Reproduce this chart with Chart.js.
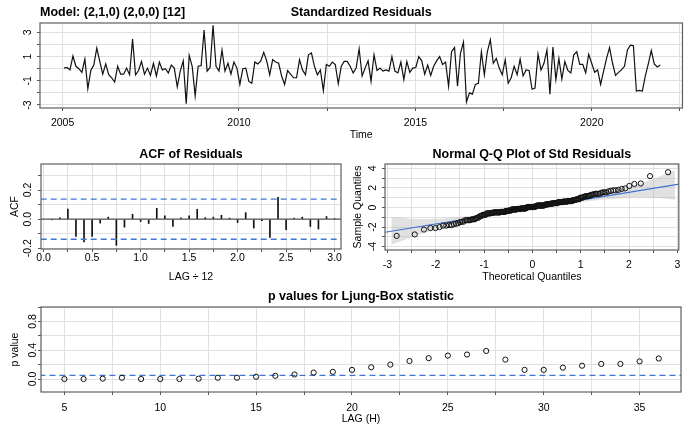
<!DOCTYPE html>
<html>
<head>
<meta charset="utf-8">
<script src="https://cdn.jsdelivr.net/npm/chart.js@4.4.1/dist/chart.umd.min.js"></script>
<style>
  html, body { margin: 0; padding: 0; background: #fff; overflow: hidden; }
  #wrap { position: relative; width: 686px; height: 429px; }
  #wrap canvas { position: absolute; left: 0; top: 0; }
</style>
</head>
<body>
<div id="wrap">
  <canvas id="resChart" width="686" height="429"></canvas>
  <canvas id="acfChart" width="686" height="429"></canvas>
  <canvas id="qqChart" width="686" height="429"></canvas>
  <canvas id="lbChart" width="686" height="429"></canvas>
</div>
<script>
// ---- data ----
// standardized residuals (monthly)
const resFirstTime = 2005.04;
const resLastTime = 2021.94;
const residuals = [
  0.05, 0.1, -0.1, 1.05, 0.2, 0, -0.3, 0.8, -1.65, -0.15, 0.3, 1.7, 0.6, -0.45, 0.4, -0.5, -0.75, -1.1, 0.2, -0.45,
  -0.45, 0.05, -0.5, 2.45, -0.5, -0.15, 0.6, -0.45, 0.05, -0.55, 0.45,
  -0.6, 0.55, -0.1, 0, -0.35, 0.3, 0.05, -1.5, -0.2, 0.65, -2.9, 1.1, 0.2, -2.25, 0.2, 0.25, 3.2, -0.2, 0.1, 3.6,
  0.2, -0.2, 1.55, -0.2, 0.45, -0.45, 0.55, 0.05, -1.3, 0, 0.05, -1.05,
  -1.2, 0.55, 0.4, 0.65, 1.35, 0.65, -0.5, 0.75, 0.55, 0.45, -0.6, -1.3, -0.15, -0.45, -0.75, -0.75, 0.75, -0.1,
  -0.5, 1.15, 1.3, 0.2, -0.5, -0.1, -1.8, 0.35, 0.2, 0.55, 0.35, -1.25, 0.2, 0.6,
  0.6, 0.2, -0.35, 0.05, 1.65, -0.6, 0.05, 0.65, -1.05, 1.15, -0.15, 0.05, -0.2, -0.1, -0.2, 1.0, -0.2, -0.35,
  0.55, -0.9, 0.6, -0.3, 0.05, 0.1, 1.0, 0.65, -0.45, 0.3, -0.55, 0.2, 0.65, 1.0, 0.35,
  0.55, -1.45, 1.4, 1.75, -1.45, 1.3, 2.2, -2.75, -2.0, -2.1, -1.3, -1.2, 1.4, -0.5, 1.4, 2.4, 0.45, 0.85, 0.05,
  -0.5, 0.75, -1.2, -0.75, 0.2, -0.5, 0.8, -0.6, -0.1, -0.15, -1.7, -1.6, 1.2,
  -0.1, 0.45, 1.55, -2.1, 1.8, -0.9, 0.85, -0.85, 0.6, -0.15, -0.35, 1.15, 1.4, 0.35, 0.35, -0.35, 1.2, 0.45, -0.3,
  -0.1, -1.3, -0.2, 0.85, 1.75, 0.45, -0.55, -0.3, -0.1, 0.2, 1.55, 1.95, 1.9, -1.85, -1.8,
  -1.85, -0.6, 0.4, 1.5, 0.4, 0.15, 0.3
];
const resTimeTicks = [2005, 2007.5, 2010, 2012.5, 2015, 2017.5, 2020, 2022.5];
const resTimeLabels = ['2005', '', '2010', '', '2015', '', '2020', ''];
const resValueTicks = [-3, -2, -1, 0, 1, 2, 3];
const resValueLabels = ['-3', '', '-1', '', '1', '', '3'];

// ACF of residuals, lags 1..36 (plotted as lag / 12)
const acfLag = [1, 2, 3, 4, 5, 6, 7, 8, 9, 10, 11, 12, 13, 14, 15, 16, 17, 18,
  19, 20, 21, 22, 23, 24, 25, 26, 27, 28, 29, 30, 31, 32, 33, 34, 35, 36];
const acfValues = [-0.005, 0.01, 0.07, -0.118, -0.157, -0.118, -0.027, 0.014, -0.18, -0.055, 0.034, -0.016,
  -0.03, 0.075, 0.023, -0.05, 0.009, 0.023, 0.068, 0.011, 0.014, 0.027, 0.007, -0.023,
  0.045, -0.061, -0.011, -0.125, 0.15, -0.073, 0.007, 0.014, -0.05, -0.068, 0.018, 0.002];
const acfBound = 0.138;
const acfXTicks = [0, 0.25, 0.5, 0.75, 1, 1.25, 1.5, 1.75, 2, 2.25, 2.5, 2.75, 3];
const acfXLabels = ['0.0', '', '0.5', '', '1.0', '', '1.5', '', '2.0', '', '2.5', '', '3.0'];
const acfYTicks = [-0.2, -0.1, 0, 0.1, 0.2, 0.3];
const acfYLabels = ['-0.2', '', '0.0', '', '0.2', ''];

// Q-Q reference line and its grey band
const qqLineX = [-3.05, 3.05];
const qqLineY = [-2.53, 2.40];
const qqBandX = [-2.92, -2.5, -2, -1.5, -1, -0.5, 0, 0.5, 1, 1.5, 2, 2.5, 2.95];
const qqBandUpper = [-0.95, -1.15, -1.15, -0.95, -0.68, -0.34, 0.04, 0.46, 0.94, 1.46, 2.1, 2.9, 3.85];
const qqBandLower = [-3.8, -3.05, -2.25, -1.6, -1.08, -0.6, -0.18, 0.2, 0.54, 0.82, 1.0, 1.0, 0.8];
const qqXTicks = [-3, -2.5, -2, -1.5, -1, -0.5, 0, 0.5, 1, 1.5, 2, 2.5, 3];
const qqXLabels = ['-3', '', '-2', '', '-1', '', '0', '', '1', '', '2', '', '3'];
const qqYTicks = [-4, -3, -2, -1, 0, 1, 2, 3, 4];
const qqYLabels = ['-4', '', '-2', '', '0', '', '2', '', '4'];

// Ljung-Box p values, lags 5..36
const lbLags = [5, 6, 7, 8, 9, 10, 11, 12, 13, 14, 15, 16, 17, 18, 19, 20,
  21, 22, 23, 24, 25, 26, 27, 28, 29, 30, 31, 32, 33, 34, 35, 36];
const lbPValues = [0.0, 0.0, 0.005, 0.018, 0.0, 0.0, 0.0, 0.005, 0.018, 0.018, 0.032, 0.045, 0.063, 0.09, 0.1, 0.127,
  0.163, 0.2, 0.25, 0.29, 0.325, 0.34, 0.39, 0.27, 0.127, 0.127, 0.158, 0.185, 0.21, 0.21, 0.245, 0.285];
const lbLevel = 0.05;
const lbXTicks = [5, 7.5, 10, 12.5, 15, 17.5, 20, 22.5, 25, 27.5, 30, 32.5, 35];
const lbXLabels = ['5', '', '10', '', '15', '', '20', '', '25', '', '30', '', '35'];
const lbYTicks = [0, 0.2, 0.4, 0.6, 0.8, 1.0];
const lbYLabels = ['0.0', '', '0.4', '', '0.8', ''];

// ---- helpers ----
const FONT = '"Liberation Sans", Arial, Helvetica, sans-serif';
Chart.defaults.font.family = FONT;
Chart.defaults.font.size = 10.5;
Chart.defaults.color = '#000';

const BLUE = '#3f78d8';
const GRID = '#e0e0e0';

// normal quantile (Acklam)
function qnorm(p) {
  const a = [-3.969683028665376e+01, 2.209460984245205e+02, -2.759285104469687e+02, 1.383577518672690e+02, -3.066479806614716e+01, 2.506628277459239e+00];
  const b = [-5.447609879822406e+01, 1.615858368580409e+02, -1.556989798598866e+02, 6.680131188771972e+01, -1.328068155288572e+01];
  const c = [-7.784894002430293e-03, -3.223964580411365e-01, -2.400758277161838e+00, -2.549732539343734e+00, 4.374664141464968e+00, 2.938163982698783e+00];
  const d = [7.784695709041462e-03, 3.224671290700398e-01, 2.445134137142996e+00, 3.754408661907416e+00];
  const pl = 0.02425;
  let q, r;
  if (p < pl) {
    q = Math.sqrt(-2 * Math.log(p));
    return (((((c[0] * q + c[1]) * q + c[2]) * q + c[3]) * q + c[4]) * q + c[5]) / ((((d[0] * q + d[1]) * q + d[2]) * q + d[3]) * q + 1);
  }
  if (p > 1 - pl) {
    q = Math.sqrt(-2 * Math.log(1 - p));
    return -(((((c[0] * q + c[1]) * q + c[2]) * q + c[3]) * q + c[4]) * q + c[5]) / ((((d[0] * q + d[1]) * q + d[2]) * q + d[3]) * q + 1);
  }
  q = p - 0.5; r = q * q;
  return (((((a[0] * r + a[1]) * r + a[2]) * r + a[3]) * r + a[4]) * r + a[5]) * q / (((((b[0] * r + b[1]) * r + b[2]) * r + b[3]) * r + b[4]) * r + 1);
}

// box round the plot region
const panelFrame = {
  id: 'panelFrame',
  afterDatasetsDraw(chart) {
    const { ctx, chartArea: a } = chart;
    ctx.save();
    ctx.strokeStyle = '#5f5f5f';
    ctx.lineWidth = 1.2;
    ctx.strokeRect(a.left, a.top, a.right - a.left, a.bottom - a.top);
    ctx.restore();
  }
};

// bold title centred over the plot region
const panelTitle = {
  id: 'panelTitle',
  afterDraw(chart, args, opts) {
    const { ctx, chartArea: a } = chart;
    ctx.save();
    ctx.font = 'bold 12.5px ' + FONT;
    ctx.fillStyle = '#000';
    ctx.textBaseline = 'middle';
    ctx.textAlign = 'center';
    ctx.fillText(opts.text, (a.left + a.right) / 2, opts.y);
    if (opts.model) {
      ctx.textAlign = 'left';
      ctx.fillText(opts.model, a.left, opts.y);
    }
    ctx.restore();
  }
};

function axis(o) {
  return {
    type: 'linear',
    min: o.min,
    max: o.max,
    offset: false,
    afterBuildTicks: s => { s.ticks = o.ticks.map(v => ({ value: v })); },
    afterFit: s => { if (s.isHorizontal()) s.height = o.size; else s.width = o.size; },
    border: { display: false },
    grid: { color: GRID, lineWidth: 1, offset: false, drawTicks: true, tickLength: 3, tickColor: '#555', tickWidth: 1 },
    ticks: {
      autoSkip: false,
      callback: (v, i) => o.labels[i],
      padding: o.pad,
      minRotation: o.rotate ? 90 : 0,
      maxRotation: o.rotate ? 90 : 0,
      crossAlign: o.rotate ? 'center' : 'near',
      color: '#000',
      font: { size: 10.5 }
    },
    title: o.title
      ? { display: true, text: o.title, color: '#000', font: { size: 10.5 }, padding: o.titlePad }
      : { display: false }
  };
}

const baseOptions = {
  responsive: false,
  animation: false,
  events: []
};
const noLegend = { legend: { display: false }, tooltip: { enabled: false } };

// ---- 1. standardized residuals ----
const resStep = (resLastTime - resFirstTime) / (residuals.length - 1);
new Chart(document.getElementById('resChart'), {
  type: 'line',
  data: {
    datasets: [{
      data: residuals.map((v, i) => ({ x: resFirstTime + i * resStep, y: v })),
      borderColor: '#111',
      borderWidth: 1.2,
      pointRadius: 0,
      tension: 0
    }]
  },
  options: Object.assign({}, baseOptions, {
    layout: { padding: { left: 0, top: 23, right: 1, bottom: 281 } },
    plugins: Object.assign({}, noLegend, {
      panelTitle: { text: 'Standardized Residuals', model: 'Model: (2,1,0) (2,0,0) [12]', y: 13 }
    }),
    scales: {
      x: axis({ min: 2004.36, max: 2022.57, ticks: resTimeTicks, labels: resTimeLabels, size: 40, pad: 6,
        title: 'Time', titlePad: { top: 0, bottom: 6.7 } }),
      y: axis({ min: -3.25, max: 3.78, ticks: resValueTicks, labels: resValueLabels, size: 40, pad: 4, rotate: true })
    }
  }),
  plugins: [panelFrame, panelTitle]
});

// ---- 2. ACF of residuals ----
new Chart(document.getElementById('acfChart'), {
  type: 'bar',
  data: {
    datasets: [
      {
        type: 'line',
        data: [{ x: -0.03, y: 0 }, { x: 3.07, y: 0 }],
        borderColor: '#555', borderWidth: 1.1, pointRadius: 0, order: 1
      },
      {
        type: 'line',
        data: [{ x: -0.03, y: acfBound }, { x: 3.07, y: acfBound }],
        borderColor: BLUE, borderWidth: 1.3, borderDash: [6, 4], pointRadius: 0, order: 0
      },
      {
        type: 'line',
        data: [{ x: -0.03, y: -acfBound }, { x: 3.07, y: -acfBound }],
        borderColor: BLUE, borderWidth: 1.3, borderDash: [6, 4], pointRadius: 0, order: 0
      },
      {
        type: 'bar',
        data: acfLag.map((k, i) => ({ x: k / 12, y: acfValues[i] })),
        backgroundColor: '#111',
        borderWidth: 0,
        barThickness: 1,
        order: 2
      }
    ]
  },
  options: Object.assign({}, baseOptions, {
    layout: { padding: { left: 0, top: 164, right: 345, bottom: 144 } },
    plugins: Object.assign({}, noLegend, { panelTitle: { text: 'ACF of Residuals', y: 155 } }),
    scales: {
      x: axis({ min: -0.027, max: 3.066, ticks: acfXTicks, labels: acfXLabels, size: 36, pad: 0.3,
        title: 'LAG \u00f7 12', titlePad: { top: 0, bottom: 2 } }),
      y: axis({ min: -0.205, max: 0.379, ticks: acfYTicks, labels: acfYLabels, size: 41, pad: 0.7, rotate: true,
        title: 'ACF', titlePad: { top: 8.7, bottom: 0 } })
    }
  }),
  plugins: [panelFrame, panelTitle]
});

// ---- 3. normal Q-Q plot ----
const sortedRes = residuals.slice().sort((a, b) => a - b);
const qqPoints = sortedRes.map((v, i) => ({ x: qnorm((i + 0.5) / sortedRes.length), y: v }));
new Chart(document.getElementById('qqChart'), {
  type: 'scatter',
  data: {
    datasets: [
      {
        data: qqPoints,
        pointStyle: 'circle',
        pointRadius: 2.6,
        pointBorderWidth: 1,
        pointBorderColor: '#111',
        pointBackgroundColor: 'rgba(0,0,0,0)',
        order: 0
      },
      {
        type: 'line',
        data: qqLineX.map((x, i) => ({ x: x, y: qqLineY[i] })),
        borderColor: '#3b6fcf', borderWidth: 1.1, pointRadius: 0, order: 1
      },
      {
        type: 'line',
        data: qqBandX.map((x, i) => ({ x: x, y: qqBandLower[i] })),
        borderWidth: 0, pointRadius: 0, fill: false, tension: 0.3, order: 3
      },
      {
        type: 'line',
        data: qqBandX.map((x, i) => ({ x: x, y: qqBandUpper[i] })),
        borderWidth: 0, pointRadius: 0, tension: 0.3,
        fill: '-1', backgroundColor: 'rgba(175,175,175,0.38)', order: 2
      }
    ]
  },
  options: Object.assign({}, baseOptions, {
    layout: { padding: { left: 340, top: 164, right: 1, bottom: 143 } },
    plugins: Object.assign({}, noLegend, { panelTitle: { text: 'Normal Q-Q Plot of Std Residuals', y: 155 } }),
    scales: {
      x: axis({ min: -3.05, max: 3.03, ticks: qqXTicks, labels: qqXLabels, size: 36, pad: 5.7,
        title: 'Theoretical Quantiles', titlePad: { top: 0, bottom: 2.7 } }),
      y: axis({ min: -4.34, max: 4.44, ticks: qqYTicks, labels: qqYLabels, size: 45, pad: 4, rotate: true,
        title: 'Sample Quantiles', titlePad: { top: 12, bottom: 0 } })
    }
  }),
  plugins: [panelFrame, panelTitle]
});

// ---- 4. Ljung-Box p values ----
new Chart(document.getElementById('lbChart'), {
  type: 'scatter',
  data: {
    datasets: [
      {
        data: lbLags.map((h, i) => ({ x: h, y: lbPValues[i] })),
        pointStyle: 'circle',
        pointRadius: 2.6,
        pointBorderWidth: 1,
        pointBorderColor: '#111',
        pointBackgroundColor: 'rgba(0,0,0,0)',
        order: 0
      },
      {
        type: 'line',
        data: [{ x: 3.7, y: lbLevel }, { x: 37.2, y: lbLevel }],
        borderColor: BLUE, borderWidth: 1.3, borderDash: [6, 4], pointRadius: 0, order: 1
      }
    ]
  },
  options: Object.assign({}, baseOptions, {
    layout: { padding: { left: 0, top: 307, right: 1, bottom: 0 } },
    plugins: Object.assign({}, noLegend, { panelTitle: { text: 'p values for Ljung-Box statistic', y: 297 } }),
    scales: {
      x: axis({ min: 3.78, max: 37.16, ticks: lbXTicks, labels: lbXLabels, size: 37, pad: 6.4,
        title: 'LAG (H)', titlePad: { top: 0, bottom: 3.4 } }),
      y: axis({ min: -0.18, max: 1.0, ticks: lbYTicks, labels: lbYLabels, size: 41, pad: -2.6, rotate: true,
        title: 'p value', titlePad: { top: 8.7, bottom: 0 } })
    }
  }),
  plugins: [panelFrame, panelTitle]
});
</script>
</body>
</html>
